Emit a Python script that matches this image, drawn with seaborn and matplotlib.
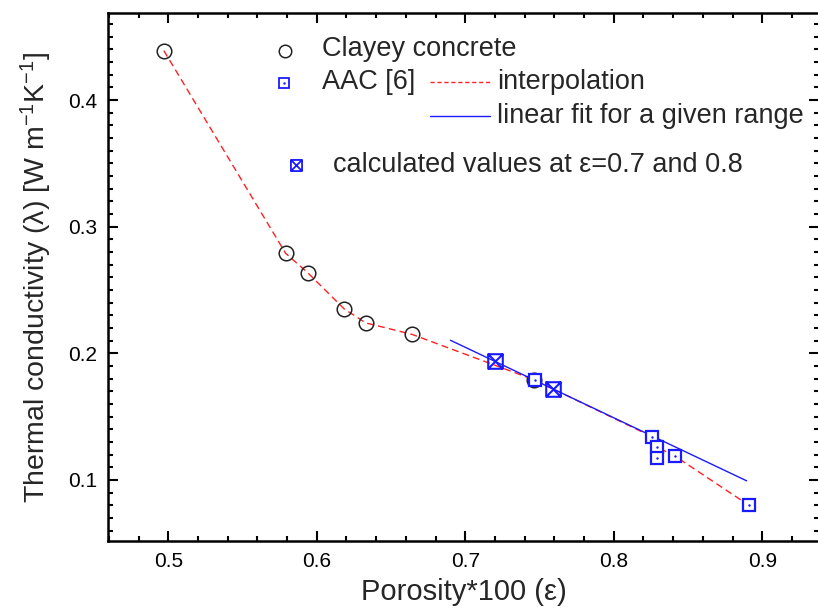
import numpy as np
import pandas as pd
import matplotlib
matplotlib.use("Agg")
import matplotlib.pyplot as plt
from matplotlib.path import Path
from matplotlib.ticker import MultipleLocator
import seaborn as sns

# ---- data ----
clay_x = [0.497, 0.579, 0.594, 0.6185, 0.633, 0.664, 0.7465]
clay_y = [0.439, 0.279, 0.2635, 0.235, 0.224, 0.215, 0.179]

aac_x = [0.747, 0.826, 0.829, 0.829, 0.841, 0.891]
aac_y = [0.179, 0.134, 0.126, 0.1175, 0.119, 0.080]

interp_x = [0.497, 0.579, 0.594, 0.6185, 0.633, 0.664, 0.7465, 0.826, 0.829, 0.841, 0.891]
interp_y = [0.439, 0.279, 0.2635, 0.235, 0.224, 0.215, 0.179, 0.134, 0.126, 0.119, 0.080]

fit_x = [0.690, 0.8895]
fit_y = [0.2103, 0.0993]

calc_x = [0.720, 0.759]
calc_y = [0.194, 0.172]

xticks = [0.5, 0.6, 0.7, 0.8, 0.9]
yticks = [0.1, 0.2, 0.3, 0.4]

sns.set_theme(style="ticks")
plt.rcParams['font.family'] = ['Liberation Sans', 'DejaVu Sans']
plt.rcParams['mathtext.fontset'] = 'custom'
plt.rcParams['mathtext.rm'] = 'Liberation Sans'
plt.rcParams['mathtext.it'] = 'Liberation Sans:italic'
plt.rcParams['mathtext.default'] = 'regular'

W, H = 818, 615
fig = plt.figure(figsize=(W / 100, H / 100), dpi=100)
ax = fig.add_axes([108 / W, (H - 541) / H, (819 - 108) / W, (541 - 13) / H])

BLUE = '#1a1aff'
RED = '#ff2020'

# crossed square marker
xsq = Path([(-1, -1), (1, -1), (1, 1), (-1, 1), (-1, -1), (1, 1), (-1, 1), (1, -1)],
           [Path.MOVETO, Path.LINETO, Path.LINETO, Path.LINETO, Path.LINETO,
            Path.LINETO, Path.MOVETO, Path.LINETO])

df_interp = pd.DataFrame({'x': interp_x, 'y': interp_y})
sns.lineplot(data=df_interp, x='x', y='y', sort=False, ax=ax, color=RED,
             lw=1.0, dashes=False, linestyle=(0, (5, 3)))
df_fit = pd.DataFrame({'x': fit_x, 'y': fit_y})
sns.lineplot(data=df_fit, x='x', y='y', sort=False, ax=ax, color=BLUE, lw=1.0)

ax.plot(clay_x, clay_y, 'o', ms=10.5, mfc='none', mec='#222222', mew=1.1, ls='none')
ax.plot(aac_x, aac_y, 's', ms=8.5, mfc='white', mec=BLUE, mew=1.6, ls='none')
ax.plot(aac_x, aac_y, '.', ms=1.5, color=BLUE, ls='none')
ax.plot(calc_x, calc_y, marker=xsq, ms=10.5, mfc='none', mec=BLUE, mew=1.5, ls='none')

ax.set_xlim(0.4594, 0.9382)
ax.set_ylim(0.0518, 0.4687)
ax.set_xticks(xticks)
ax.set_yticks(yticks)
ax.set_xticklabels([f'{v:.1f}' for v in xticks])
ax.set_yticklabels([f'{v:.1f}' for v in yticks])
ax.xaxis.set_minor_locator(MultipleLocator(0.02))
ax.yaxis.set_minor_locator(MultipleLocator(0.01))
ax.tick_params(which='both', direction='in', top=True, right=True, width=1.5, colors='black')
ax.tick_params(which='major', length=7, labelsize=15, pad=8)
ax.tick_params(which='minor', length=3.5)
for s in ax.spines.values():
    s.set_linewidth(1.8)
    s.set_color('black')

ax.set_xlabel('Porosity*100 (ε)', fontsize=21, labelpad=5)
ax.set_ylabel('Thermal conductivity (λ) [W m$^{-1}$K$^{-1}$]', fontsize=20.5, labelpad=10)

# ---- legend, drawn by hand (figure pixel coordinates) ----
def fx(px):
    return px / W

def fy(py):
    return (H - py) / H

fs = 19.5
fig.lines.append(plt.Line2D([fx(285)], [fy(51)], marker='o', ms=9, mfc='none',
                            mec='#222222', mew=1.1, transform=fig.transFigure))
fig.text(fx(322), fy(49), 'Clayey concrete', fontsize=fs, va='center', ha='left')
fig.lines.append(plt.Line2D([fx(284)], [fy(83)], marker='s', ms=6.5, mfc='white',
                            mec=BLUE, mew=1.3, transform=fig.transFigure))
fig.lines.append(plt.Line2D([fx(284)], [fy(83)], marker='.', ms=1.5, color=BLUE,
                            transform=fig.transFigure))
fig.text(fx(322), fy(82), 'AAC [6]', fontsize=fs, va='center', ha='left')
fig.lines.append(plt.Line2D([fx(430), fx(490)], [fy(82), fy(82)], color=RED, lw=1.0,
                            linestyle=(0, (3, 2)), transform=fig.transFigure))
fig.text(fx(497), fy(82), 'interpolation', fontsize=fs, va='center', ha='left')
fig.lines.append(plt.Line2D([fx(430), fx(490)], [fy(116), fy(116)], color=BLUE, lw=1.0,
                            transform=fig.transFigure))
fig.text(fx(497), fy(116), 'linear fit for a given range', fontsize=fs, va='center', ha='left')
fig.lines.append(plt.Line2D([fx(296)], [fy(165)], marker=xsq, ms=8, mfc='none',
                            mec=BLUE, mew=1.3, transform=fig.transFigure))
fig.text(fx(333), fy(165), 'calculated values at ε=0.7 and 0.8', fontsize=fs,
         va='center', ha='left')

fig.savefig('out.png', dpi=100)
